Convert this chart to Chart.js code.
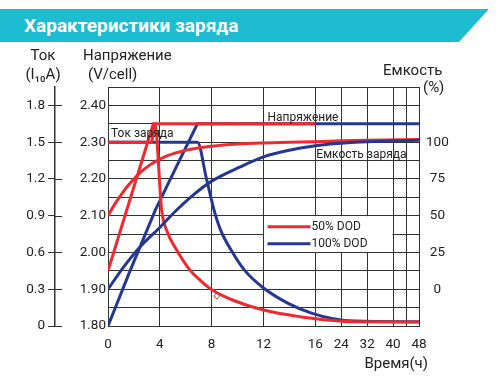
<!DOCTYPE html>
<html><head><meta charset="utf-8">
<script src="https://cdn.jsdelivr.net/npm/chart.js@4/dist/chart.umd.min.js"></script>
<style>
html,body{margin:0;padding:0;background:#fff;}
#wrap{position:relative;width:500px;height:380px;overflow:hidden;background:#fff;}
#banner{position:absolute;left:0;top:9px;width:489px;height:33px;background:#1dbcd1;
 clip-path:polygon(0 0,100% 0,calc(100% - 30px) 100%,0 100%);color:#fff;
 font:bold 19px Roboto,"Liberation Sans",sans-serif;line-height:33px;padding-left:24px;box-sizing:border-box;z-index:2;}
canvas{position:absolute;left:0;top:0;}
</style></head><body>
<div id="wrap"><div id="banner">Характеристики заряда</div><canvas id="c" width="500" height="380" style="width:500px;height:380px"></canvas></div>
<script>
// ---- data ----
const xTickHours = [0, 4, 8, 12, 16, 24, 32, 40, 44, 48];
const xTickLabels = ['0', '4', '8', '12', '16', '24', '32', '40', '', '48'];
const voltTickValues = [1.80, 1.85, 1.90, 1.95, 2.00, 2.05, 2.10, 2.15, 2.20, 2.25, 2.30, 2.35, 2.40, 2.45];
const voltTickLabels = ['1.80', '', '1.90', '', '2.00', '', '2.10', '', '2.20', '', '2.30', '', '2.40', ''];
const currTickValues = [0, 0.3, 0.6, 0.9, 1.2, 1.5, 1.8];
const currTickLabels = ['0', '0.3', '0.6', '0.9', '1.2', '1.5', '1.8'];
const capTickValues = [0, 25, 50, 75, 100];
const capTickLabels = ['0', '25', '50', '75', '100'];

const seriesNames = ['50% DOD', '100% DOD'];

const redVoltHours = [0, 3.5, 16];
const redVoltValues = [1.95, 2.35, 2.35];
const blueVoltHours = [0, 1.7, 3.65, 5.3, 6.9, 48];
const blueVoltValues = [1.80, 1.95, 2.115, 2.235, 2.35, 2.35];

const redCurrHours = [0, 3.35, 3.62, 4.14, 4.53, 5.3, 6.33, 7.1, 8.05, 9.65, 12, 14.8, 21.5, 28, 48];
const redCurrValues = [1.5, 1.5, 1.65, 0.945, 0.78, 0.62, 0.456, 0.375, 0.293, 0.21, 0.13, 0.076, 0.045, 0.035, 0.033];
const blueCurrHours = [0, 6.9, 7.6, 8.2, 8.7, 9.5, 10.5, 12, 13.9, 15.7, 21.5, 28, 48];
const blueCurrValues = [1.5, 1.5, 1.2, 0.94, 0.78, 0.62, 0.46, 0.31, 0.185, 0.105, 0.06, 0.04, 0.035];

const redCapHours = [0, 0.5, 1, 1.5, 2, 2.5, 3, 3.5, 4.5, 5.5, 6.5, 8, 10, 12, 14, 16, 24, 32, 48];
const redCapValues = [50, 57.5, 64, 70, 75, 79.5, 83, 86, 90.5, 93.3, 95.3, 97.2, 98.7, 99.5, 100, 100.3, 100.9, 101.3, 101.8];
const blueCapHours = [0, 1.2, 2.5, 4, 5.2, 6.5, 8, 10.2, 12, 14, 16, 20, 24, 32, 48];
const blueCapValues = [0, 15, 29, 42, 53, 63.5, 73.5, 83.2, 90, 94.5, 97.5, 98.6, 99.3, 100.3, 101.3];

const markerHours = [8.4];
const markerValues = [0.245];

const annotationTexts = ['Напряжение', 'Ток заряда', 'Емкость заряда'];
const annotationHours = [12, 0, 16];
const annotationVolts = [2.35, 2.325, 2.265];

// ---- styles ----
const RED = '#ee2a2e', BLUE = '#23398f', GRID = '#333', TXT = '#222';
const FONT = 'Roboto, "Liberation Sans", sans-serif';

const pts = (hs, vs) => hs.map((h, i) => ({x: h, y: vs[i]}));

// broken time axis: 0-16 h on one pitch, 16-48 h compressed
const posOfHour = h => h <= 16 ? h / 4 : 4 + (h - 16) / 16;
const hourOfPos = p => p <= 4 ? p * 4 : 16 + (p - 4) * 16;
class HourScale extends Chart.LinearScale {
  static id = 'hourBreak';
  static defaults = {};
  buildTicks() { return xTickHours.map(v => ({value: v})); }
  getPixelForValue(v) { return this.getPixelForDecimal(posOfHour(v) / posOfHour(this.max)); }
  getValueForPixel(px) { return hourOfPos(this.getDecimalForPixel(px) * posOfHour(this.max)); }
}
Chart.register(HourScale);

const lineDs = (label, data, color, axis, mono, order) => ({
  label, data, borderColor: color, backgroundColor: color, borderWidth: 3,
  pointRadius: 0, fill: false, yAxisID: axis, order,
  tension: 0, cubicInterpolationMode: mono ? 'monotone' : 'default'
});

const overlayPlugin = {
  id: 'overlay',
  afterDatasetsDraw(chart) {
    const {ctx, chartArea: ca, scales} = chart;
    const x = scales.x, yV = scales.yV;
    ctx.save();
    // in-plot annotations
    ctx.fillStyle = TXT; ctx.font = '12px ' + FONT; ctx.textBaseline = 'middle'; ctx.textAlign = 'left';
    const offs = [[4, -6], [3, 1], [1, 0]];
    annotationTexts.forEach((t, i) => {
      ctx.fillText(t, x.getPixelForValue(annotationHours[i]) + offs[i][0], yV.getPixelForValue(annotationVolts[i]) + offs[i][1]);
    });
    // legend box (12h-40h, 2.00-2.10 V)
    const l = x.getPixelForValue(12), r = x.getPixelForValue(40);
    const t = yV.getPixelForValue(2.10), b = yV.getPixelForValue(2.00);
    ctx.fillStyle = '#fff';
    ctx.fillRect(l + 0.5, t + 0.5, r - l - 1, b - t - 1);
    const cols = [RED, BLUE];
    seriesNames.forEach((n, i) => {
      const yy = t + 11 + i * 17;
      ctx.strokeStyle = cols[i]; ctx.lineWidth = 3;
      ctx.beginPath(); ctx.moveTo(l + 4, yy); ctx.lineTo(l + 47, yy); ctx.stroke();
      ctx.fillStyle = TXT; ctx.font = '12px ' + FONT;
      ctx.fillText(n, l + 48, yy + 0.5);
    });
    ctx.restore();
  },
  afterDraw(chart) {
    const {ctx, chartArea: ca, scales} = chart;
    const yI = scales.yI, yV = scales.yV;
    ctx.save();
    // right half of the cross ticks on the current axis
    ctx.strokeStyle = GRID; ctx.lineWidth = 1;
    currTickValues.forEach(v => {
      const y = Math.round(yI.getPixelForValue(v)) + 0.5;
      ctx.beginPath(); ctx.moveTo(yI.right, y); ctx.lineTo(yI.right + 7, y); ctx.stroke();
    });
    // axis titles
    ctx.fillStyle = TXT; ctx.font = '15px ' + FONT; ctx.textBaseline = 'middle';
    ctx.textAlign = 'center';
    ctx.fillText('Ток', yI.right - 12, ca.top - 31);
    ctx.fillText('(I₁₀A)', yI.right - 12, ca.top - 12);
    ctx.textAlign = 'left';
    ctx.fillText('Напряжение', yV.left + 28, ca.top - 31);
    ctx.fillText('(V/cell)', yV.left + 33, ca.top - 12);
    ctx.fillText('Емкость', ca.right - 36, ca.top - 16);
    ctx.fillText('(%)', ca.right + 4, ca.top + 1);
    ctx.textAlign = 'right';
    ctx.fillText('Время(ч)', ca.right + 9, ca.bottom + 38);
    ctx.restore();
  }
};

const tickFont = {family: FONT, size: 13.5};

new Chart(document.getElementById('c'), {
  type: 'line',
  data: {
    datasets: [
      lineDs('100% DOD capacity', pts(blueCapHours, blueCapValues), BLUE, 'yC', true, 0),
      lineDs('50% DOD voltage', pts(redVoltHours, redVoltValues), RED, 'yV', false, 1),
      lineDs('50% DOD current', pts(redCurrHours, redCurrValues), RED, 'yI', true, 2),
      lineDs('50% DOD capacity', pts(redCapHours, redCapValues), RED, 'yC', true, 3),
      lineDs('100% DOD voltage', pts(blueVoltHours, blueVoltValues), BLUE, 'yV', false, 4),
      lineDs('100% DOD current', pts(blueCurrHours, blueCurrValues), BLUE, 'yI', true, 5),
      {label: 'marker', data: pts(markerHours, markerValues), yAxisID: 'yI', showLine: false,
       pointStyle: 'rectRot', pointRadius: 3, pointBorderWidth: 1, pointBorderColor: RED,
       pointBackgroundColor: '#fff', borderColor: RED, order: 6}
    ]
  },
  options: {
    responsive: false, animation: false, devicePixelRatio: 1,
    layout: {padding: {top: 87, left: 0, right: 0, bottom: 0}},
    plugins: {legend: {display: false}, tooltip: {enabled: false}, title: {display: false}},
    scales: {
      x: {
        type: 'hourBreak', min: 0, max: 48,
        grid: {color: GRID, lineWidth: 1, drawTicks: false},
        border: {color: GRID, width: 1},
        ticks: {autoSkip: false, maxRotation: 0, padding: 11, color: TXT, font: tickFont,
                callback: (v, i) => xTickLabels[i]},
        afterFit: s => { s.height = 54; }
      },
      yV: {
        type: 'linear', position: 'left', weight: 0, min: 1.80, max: 2.45,
        grid: {color: GRID, lineWidth: 1, drawTicks: false},
        border: {color: GRID, width: 1},
        afterBuildTicks: s => { s.ticks = voltTickValues.map(v => ({value: v})); },
        ticks: {padding: 2, color: TXT, font: tickFont, autoSkip: false,
                callback: (v, i) => voltTickLabels[i]},
        afterFit: s => { s.width = 53; }
      },
      yI: {
        type: 'linear', position: 'left', weight: 1, min: 0, max: 1.95,
        grid: {drawOnChartArea: false, drawTicks: true, tickLength: 7, color: GRID, lineWidth: 1},
        border: {color: GRID, width: 1.5},
        afterBuildTicks: s => { s.ticks = currTickValues.map(v => ({value: v})); },
        ticks: {padding: 3, color: TXT, font: tickFont, autoSkip: false,
                callback: (v, i) => currTickLabels[i]},
        afterFit: s => { s.width = 55; }
      },
      yC: {
        type: 'linear', position: 'right', min: -25, max: 137.5,
        grid: {drawOnChartArea: false, drawTicks: false},
        border: {color: GRID, width: 1},
        afterBuildTicks: s => { s.ticks = capTickValues.map(v => ({value: v})); },
        ticks: {padding: 7, color: TXT, font: tickFont, autoSkip: false, crossAlign: 'center',
                callback: (v, i) => capTickLabels[i]},
        afterFit: s => { s.width = 81; }
      }
    }
  },
  plugins: [overlayPlugin]
});
</script>
</body></html>
